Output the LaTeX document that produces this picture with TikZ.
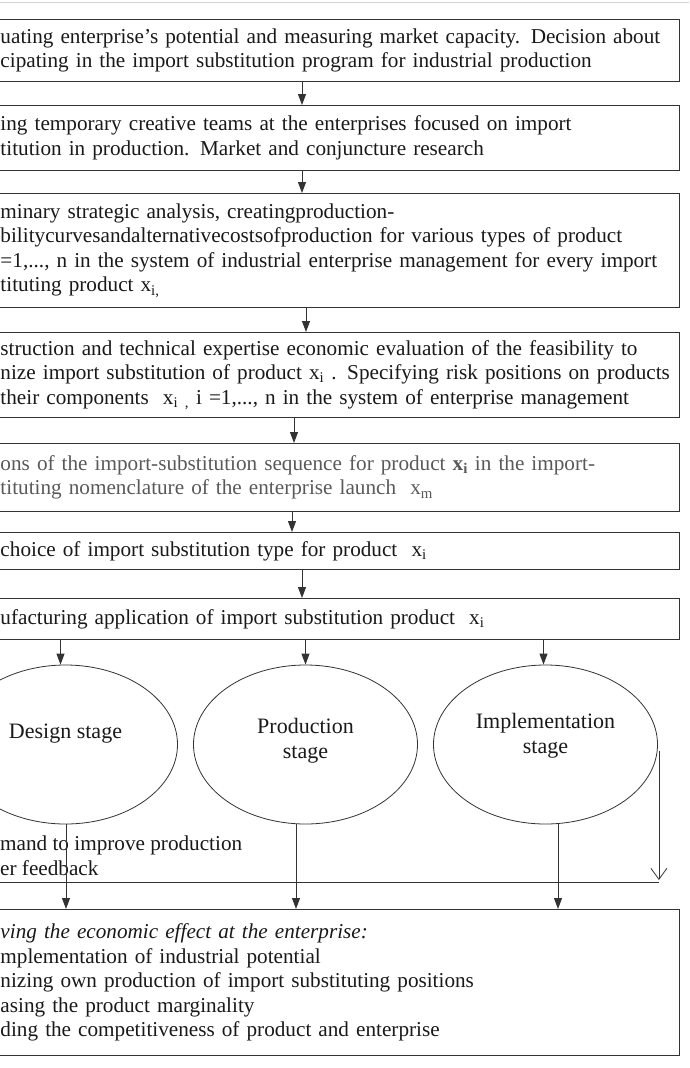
\documentclass[tikz,border=0pt]{standalone}
\usepackage{fontspec}
\setmainfont{Liberation Serif}
\usetikzlibrary{arrows.meta,positioning,shapes.geometric}

\begin{document}
\begin{tikzpicture}[x=1pt, y=-1pt,
    stepbox/.style={draw=black!80, line width=1pt, anchor=north west, inner xsep=4pt, inner ysep=0pt, text width=675pt, align=left, font=\fontsize{21.2}{24.5}\selectfont, text=black!90},
    stage/.style={draw=black!80, line width=0.8pt, ellipse, minimum width=224pt, minimum height=159pt, inner sep=0pt},
    stagetext/.style={align=center, inner sep=0pt, font=\fontsize{22}{25}\selectfont, text=black!90},
    arr/.style={-{Triangle[length=11pt, width=8pt]}, line width=1pt, draw=black!80},
    fback/.style={-{Straight Barb[length=11pt, width=16pt]}, line width=0.8pt, draw=black!80},
    plain/.style={line width=0.8pt, draw=black!80},
]
    \useasboundingbox (0,0) rectangle (689,1068);
    \clip (0,0) rectangle (689,1068);
    \draw[gray!35, line width=0.6pt] (0,2) -- (689,2);

    % Sequence of steps
    \node[stepbox, minimum height=62pt] (eval) at (-4,19) {uating enterprise's potential and measuring market capacity. Decision about\\cipating in the import substitution program for industrial production};
    \node[stepbox, minimum height=65pt] (teams) at (-4,105) {ing temporary creative teams at the enterprises focused on import\\titution in production. Market and conjuncture research};
    \node[stepbox, minimum height=114pt] (prelim) at (-4,193) {minary strategic analysis, creatingproduction-\\bilitycurvesandalternativecostsofproduction for various types of product\\=1,..., n in the system of industrial enterprise management for every import\\tituting product x\textsubscript{i,}};
    \node[stepbox, minimum height=85pt] (expert) at (-4,332) {struction and technical expertise economic evaluation of the feasibility to\\nize import substitution of product x\textsubscript{i} . Specifying risk positions on products\\their components\ \ x\textsubscript{i ,} i =1,..., n in the system of enterprise management};
    \node[stepbox, minimum height=68pt, text=black!65] (seq) at (-4,443) {ons of the import-substitution sequence for product \textbf{x\textsubscript{i}} in the import-\\tituting nomenclature of the enterprise launch\ \ x\textsubscript{m}};
    \node[stepbox, minimum height=37pt] (choice) at (-4,532) {choice of import substitution type for product\ \ x\textsubscript{i}};
    \node[stepbox, minimum height=41pt] (apply) at (-4,598) {ufacturing application of import substitution product\ \ x\textsubscript{i}};

    % Stages
    \node[stage] (design) at (65.5,744.5) {};
    \node[stage] (prod) at (305.5,744.5) {};
    \node[stage] (impl) at (545.5,744.5) {};
    \node[stagetext] (designlbl) at ([yshift=11pt]design.center) {Design stage};
    \node[stagetext] (prodlbl) at ([yshift=4pt]prod.center) {Production\\stage};
    \node[stagetext] (impllbl) at ([yshift=9pt]impl.center) {Implementation\\stage};

    % Feedback
    \node[anchor=base west, inner sep=0pt, align=left, font=\fontsize{21.2}{24.5}\selectfont, text=black!90] (cmd) at (0,875) {mand to improve production\\er feedback};

    % Result
    \node[stepbox, minimum height=146pt] (effect) at (-4,909) {\textit{ving the economic effect at the enterprise:}\\mplementation of industrial potential\\nizing own production of import substituting positions\\asing the product marginality\\ding the competitiveness of product and enterprise};

    % Arrows
    \foreach \a/\b/\x in {eval/teams/302, teams/prelim/302, prelim/expert/306, expert/seq/294, seq/choice/292, choice/apply/302}
        \draw[arr] (\a.south -| \x,0) -- (\b.north -| \x,0);
    \draw[arr] ([xshift=-5pt]design.north |- apply.south) -- ([xshift=-5pt]design.north);
    \draw[arr] (prod.north |- apply.south) -- (prod.north);
    \draw[arr] ([xshift=-2pt]impl.north |- apply.south) -- ([xshift=-2pt]impl.north);
    \draw[arr] ([xshift=0.5pt]design.south) -- ([xshift=0.5pt]design.south |- effect.north);
    \draw[arr] ([xshift=-9.5pt]prod.south) -- ([xshift=-9.5pt]prod.south |- effect.north);
    \draw[arr] ([xshift=12.5pt]impl.south) -- ([xshift=12.5pt]impl.south |- effect.north);
    \coordinate (fbtop) at ([xshift=1pt, yshift=-6pt]impl.east);
    \coordinate (fbend) at (fbtop |- 0,880);
    \draw[fback] (fbtop) -- (fbend);
    \coordinate (hstart) at (-10,882);
    \draw[plain] (hstart) -- (hstart -| fbtop);
\end{tikzpicture}
\end{document}
